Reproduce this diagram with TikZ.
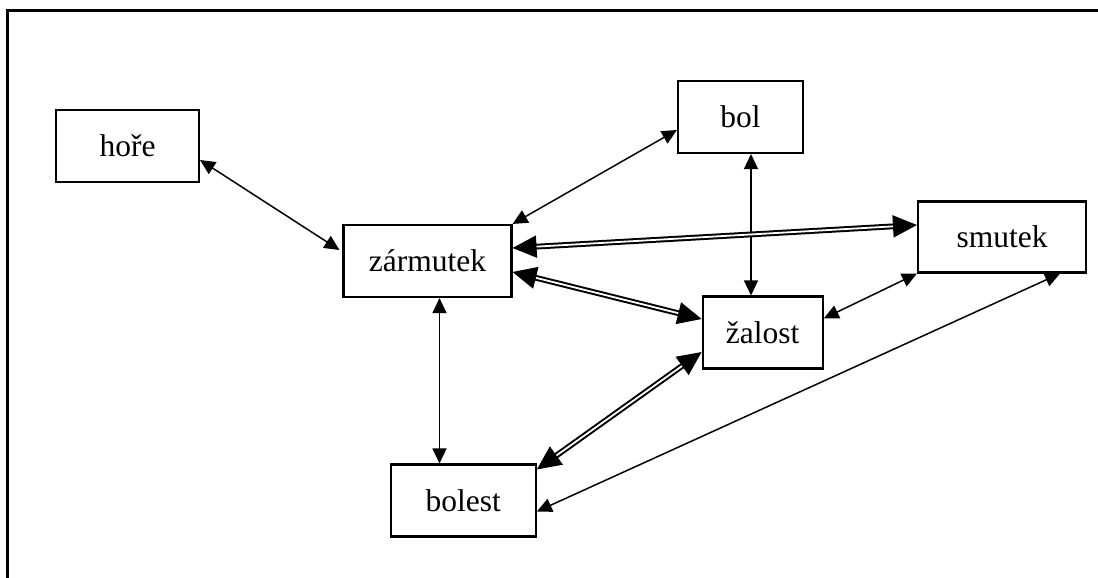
\documentclass[tikz,border=0pt]{standalone}
\usepackage{fontspec}
\setmainfont{Liberation Serif}
\usetikzlibrary{arrows.meta}
\begin{document}
\begin{tikzpicture}[x=1pt,y=-1pt,
  box/.style={draw, line width=2.1pt, rectangle, inner sep=0pt, minimum height=72pt, font=\fontsize{31.5}{36}\selectfont},
  thinarrow/.style={line width=1.5pt, {Triangle[length=15pt,width=14pt]}-{Triangle[length=15pt,width=14pt]}},
  dblarrow/.style={double, line width=2pt, double distance=1.8pt, {Triangle[length=24pt,width=22pt]}-{Triangle[length=24pt,width=22pt]}},
]
\useasboundingbox (0,0) rectangle (1098,578);
\draw[line width=2.4pt] (1098,10.5) -- (7.5,10.5) -- (7.5,578);

\node[box, minimum width=143pt] (hore) at (127.5,146) {hoře};
\node[box, minimum width=125pt] (bol) at (740.5,117) {bol};
\node[box, minimum width=168pt] (zar) at (427.5,261) {zármutek};
\node[box, minimum width=168pt, minimum height=71pt] (smu) at (1002,237) {smutek};
\node[box, minimum width=120pt] (zal) at (762.7,332.5) {žalost};
\node[box, minimum width=145pt] (bolest) at (463.3,500.5) {bolest};

\draw[thinarrow] ([yshift=-14pt]hore.east) -- ([yshift=11pt,xshift=-3pt]zar.west);
\draw[thinarrow] ([yshift=-13pt]bol.west) -- (zar.north east);
\path ([xshift=10.5pt]bol.south) coordinate (p);
\draw[thinarrow] (p) -- (p |- zal.north);
\draw[dblarrow] ([yshift=13pt]zar.east) -- ([yshift=12pt]smu.west);
\draw[dblarrow] ([yshift=-11pt]zar.east) -- ([yshift=13.5pt]zal.west);
\draw[thinarrow] (smu.south west) -- ([yshift=14pt]zal.east);
\path ([xshift=12pt]zar.south) coordinate (q);
\draw[thinarrow] (q) -- (q |- bolest.north);
\draw[dblarrow] ([yshift=-19.5pt]zal.west) -- ([yshift=-6pt]bolest.north east);
\draw[thinarrow] ([xshift=58pt]smu.south) -- ([yshift=-11pt]bolest.east);
\end{tikzpicture}
\end{document}
